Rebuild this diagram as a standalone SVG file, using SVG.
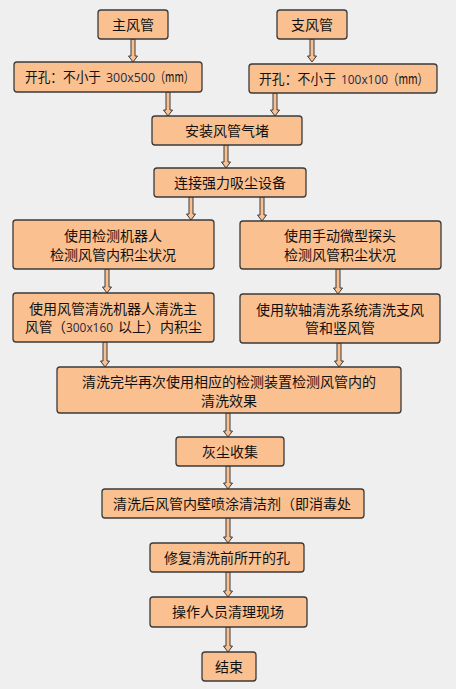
<svg xmlns="http://www.w3.org/2000/svg" width="456" height="689" viewBox="0 0 456 689">
<style>
.box{fill:#FAC090;stroke:#3a3a3a;stroke-width:1.3}
.t{font-family:"Noto Sans CJK SC","Noto Sans",sans-serif;font-size:14px;fill:#111;text-anchor:middle}
.s{font-family:"Noto Sans CJK SC","Noto Sans",sans-serif;font-size:14px;fill:#111}
.n{font-family:"Open Sans","Noto Sans",sans-serif;font-size:13px;fill:#1c2b4a}
.ar{fill:#FAC090;stroke:#3a3a3a;stroke-width:1}
</style>
<rect width="456" height="689" fill="#efefef"/>
<g id="connectors">
<path class="ar" d="M131,39 V56 H128.5 L133,62 L137.5,56 H135 V39 Z"/>
<path class="ar" d="M310,39 V56 H307.5 L312,62 L316.5,56 H314 V39 Z"/>
<path class="ar" d="M166,92 V110 H163.5 L168,116 L172.5,110 H170 V92 Z"/>
<path class="ar" d="M273,93 V110 H270.5 L275,116 L279.5,110 H277 V93 Z"/>
<path class="ar" d="M224,145 V162 H221.5 L226,168 L230.5,162 H228 V145 Z"/>
<path class="ar" d="M189,197 V214 H186.5 L191,220 L195.5,214 H193 V197 Z"/>
<path class="ar" d="M260,197 V215 H257.5 L262,221 L266.5,215 H264 V197 Z"/>
<path class="ar" d="M105,269 V287 H102.5 L107,293 L111.5,287 H109 V269 Z"/>
<path class="ar" d="M336,269 V288 H333.5 L338,294 L342.5,288 H340 V269 Z"/>
<path class="ar" d="M103,342 V361 H100.5 L105,367 L109.5,361 H107 V342 Z"/>
<path class="ar" d="M337,343 V361 H334.5 L339,367 L343.5,361 H341 V343 Z"/>
<path class="ar" d="M226,413 V431 H223.5 L228,437 L232.5,431 H230 V413 Z"/>
<path class="ar" d="M226,466 V483 H223.5 L228,489 L232.5,483 H230 V466 Z"/>
<path class="ar" d="M226,518 V537 H223.5 L228,543 L232.5,537 H230 V518 Z"/>
<path class="ar" d="M226,572 V591 H223.5 L228,597 L232.5,591 H230 V572 Z"/>
<path class="ar" d="M226,627 V646 H223.5 L228,652 L232.5,646 H230 V627 Z"/>
</g>
<g id="n1"><rect class="box" x="98" y="10" width="70" height="29" rx="3"/><text class="t" x="133" y="29.5">主风管</text></g>
<g id="n2"><rect class="box" x="277" y="10" width="70" height="29" rx="3"/><text class="t" x="312" y="29.5">支风管</text></g>
<g id="n3"><rect class="box" x="14" y="62" width="188" height="30" rx="3"/>
<text class="s" x="25" y="82" textLength="76" lengthAdjust="spacingAndGlyphs">开孔：不小于</text>
<text class="n" x="106" y="82" textLength="49" lengthAdjust="spacingAndGlyphs">300x500</text>
<text class="s" x="155" y="82" textLength="39" lengthAdjust="spacingAndGlyphs">（mm）</text></g>
<g id="n4"><rect class="box" x="249" y="64" width="188" height="29" rx="3"/>
<text class="s" x="259" y="83.5" textLength="77" lengthAdjust="spacingAndGlyphs">开孔：不小于</text>
<text class="n" x="341" y="83.5" textLength="47" lengthAdjust="spacingAndGlyphs">100x100</text>
<text class="s" x="388" y="83.5" textLength="40" lengthAdjust="spacingAndGlyphs">（mm）</text></g>
<g id="n5"><rect class="box" x="152" y="116" width="150" height="29" rx="3"/><text class="t" x="227" y="135.5">安装风管气堵</text></g>
<g id="n6"><rect class="box" x="154" y="168" width="152" height="29" rx="3"/><text class="t" x="230" y="187.5">连接强力吸尘设备</text></g>
<g id="n7"><rect class="box" x="13" y="220" width="201" height="49" rx="3"/><text class="t" x="113" y="241">使用检测机器人</text><text class="t" x="113" y="260">检测风管内积尘状况</text></g>
<g id="n8"><rect class="box" x="240" y="221" width="201" height="48" rx="3"/><text class="t" x="340" y="241">使用手动微型探头</text><text class="t" x="340" y="260">检测风管积尘状况</text></g>
<g id="n9"><rect class="box" x="13" y="293" width="201" height="49" rx="3"/><text class="t" x="113" y="313.5">使用风管清洗机器人清洗主</text>
<text class="s" x="25" y="332" textLength="41" lengthAdjust="spacingAndGlyphs">风管（</text>
<text class="n" x="66" y="332" textLength="47" lengthAdjust="spacingAndGlyphs">300x160</text>
<text class="s" x="118" y="332" textLength="84" lengthAdjust="spacingAndGlyphs">以上）内积尘</text></g>
<g id="n10"><rect class="box" x="240" y="294" width="200" height="49" rx="3"/><text class="t" x="340" y="314.5">使用软轴清洗系统清洗支风</text><text class="t" x="340" y="333">管和竖风管</text></g>
<g id="n11"><rect class="box" x="57" y="367" width="344" height="46" rx="3"/><text class="t" x="229" y="387">清洗完毕再次使用相应的检测装置检测风管内的</text><text class="t" x="229" y="406">清洗效果</text></g>
<g id="n12"><rect class="box" x="176" y="437" width="108" height="29" rx="3"/><text class="t" x="230" y="456.5">灰尘收集</text></g>
<g id="n13"><rect class="box" x="102" y="489" width="262" height="29" rx="3"/><text class="t" x="232" y="508.5">清洗后风管内壁喷涂清洁剂（即消毒处</text></g>
<g id="n14"><rect class="box" x="150" y="543" width="154" height="29" rx="3"/><text class="t" x="227" y="562.5">修复清洗前所开的孔</text></g>
<g id="n15"><rect class="box" x="150" y="597" width="157" height="30" rx="3"/><text class="t" x="228" y="617">操作人员清理现场</text></g>
<g id="n16"><rect class="box" x="202" y="652" width="54" height="29" rx="3"/><text class="t" x="229" y="671.5">结束</text></g>
</svg>
